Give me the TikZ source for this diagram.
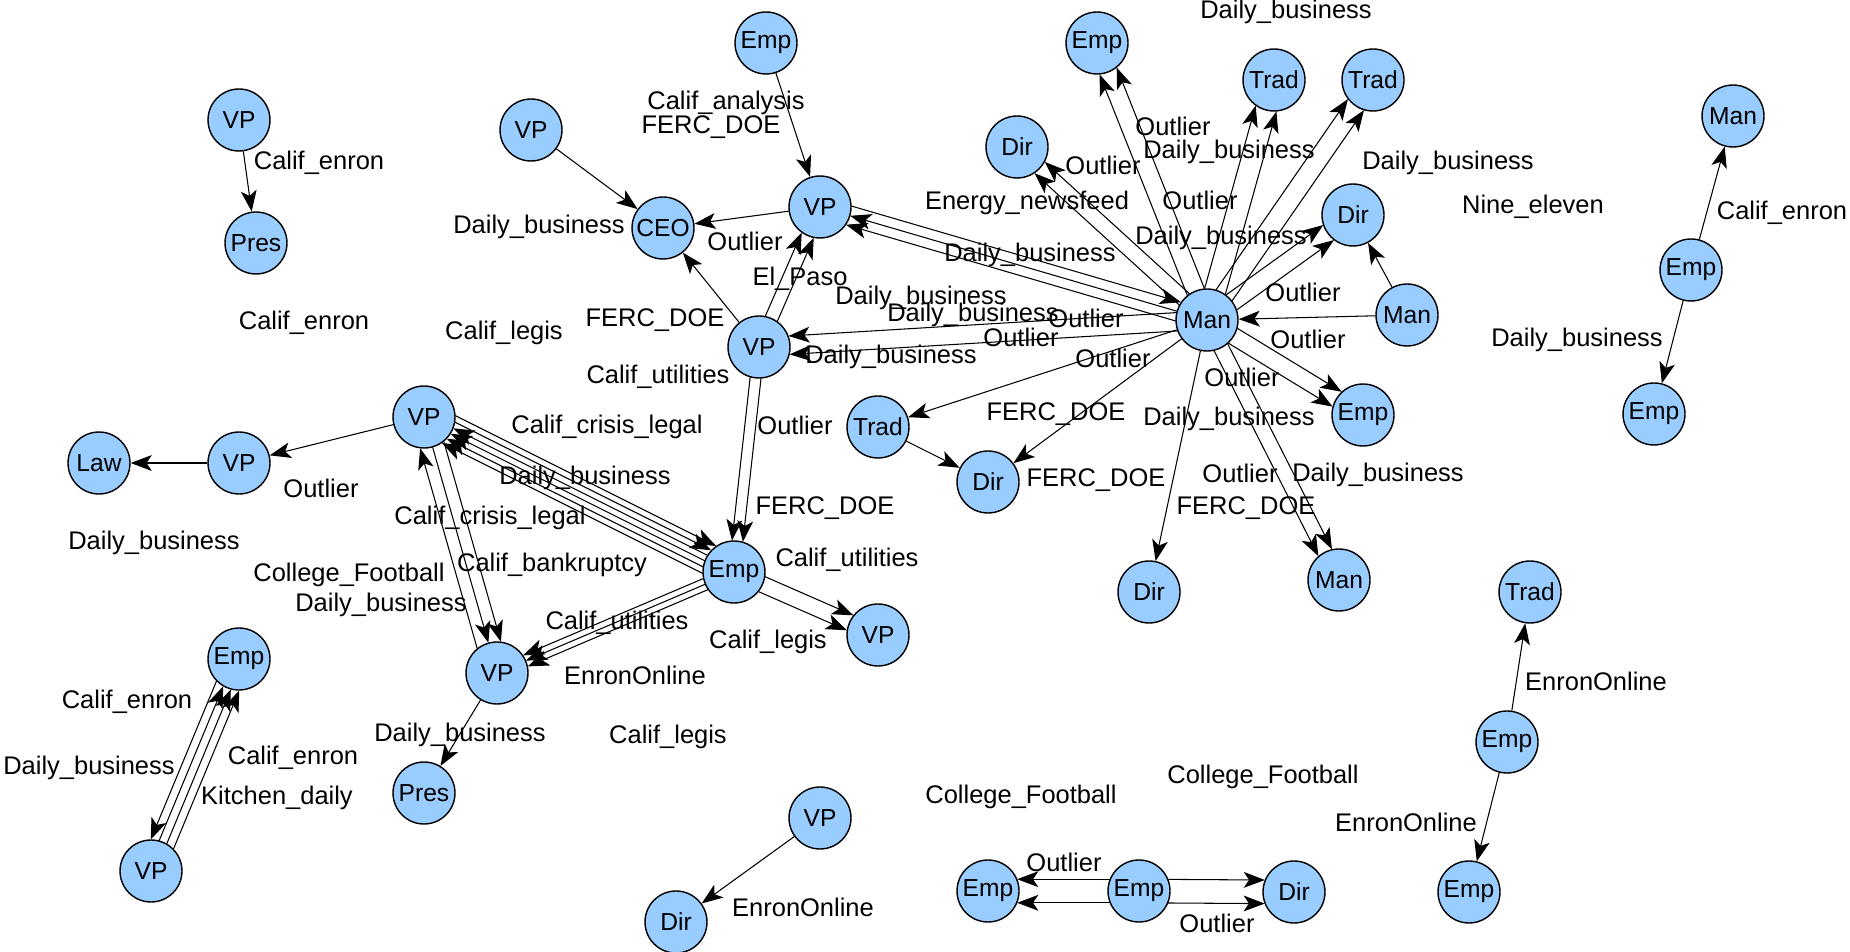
\documentclass[tikz,border=0pt]{standalone}
\usepackage{fontspec}
\setmainfont{Liberation Sans}
\usetikzlibrary{arrows.meta,calc}
\definecolor{nodeblue}{RGB}{153,204,255}
\tikzstyle{vertex}=[circle,draw,line width=0.8pt,fill=nodeblue,minimum size=1.24cm,inner sep=0pt,font=\fontsize{14}{16}\selectfont]
\tikzstyle{edge}=[draw,line width=0.6pt,-{Stealth[length=12pt,width=9pt,inset=3pt]}]
\tikzstyle{weight}=[font=\fontsize{14.5}{17}\selectfont,inner sep=0pt]
% parallel copies of one connector, #3 = angle offset on the circles
\newcommand{\bundlerad}{0.63cm}
\newcommand{\bundle}[3]{%
  \pgfmathsetmacro{\offb}{-(#3)}%
  \path[edge] ($(#1)!\bundlerad!#3:(#2)$) -- ($(#2)!\bundlerad!\offb:(#1)$);}

\begin{document}
\begin{tikzpicture}[x=0.02cm,y=-0.02cm]
  \useasboundingbox (0,0) rectangle (1850,952);

  % people
  \node[vertex] (vpa) at (239,120) {VP};
  \node[vertex] (presa) at (256,243) {Pres};
  \node[vertex] (vpb) at (531,130) {VP};
  \node[vertex] (ceo) at (663,228) {CEO};
  \node[vertex] (empa) at (766,43) {Emp};
  \node[vertex] (vpc) at (820,207) {VP};
  \node[vertex] (vpd) at (759,347) {VP};
  \node[vertex] (hub) at (1207,320) {Man};
  \node[vertex] (empb) at (1097,43) {Emp};
  \node[vertex] (trada) at (1274,80) {Trad};
  \node[vertex] (tradb) at (1373,80) {Trad};
  \node[vertex] (dira) at (1017,147) {Dir};
  \node[vertex] (dirb) at (1353,215) {Dir};
  \node[vertex] (mana) at (1407,315) {Man};
  \node[vertex] (empc) at (1363,415) {Emp};
  \node[vertex] (tradc) at (878,427) {Trad};
  \node[vertex] (dirc) at (988,482) {Dir};
  \node[vertex] (dird) at (1149,592) {Dir};
  \node[vertex] (manb) at (1339,580) {Man};
  \node[vertex] (manc) at (1733,116) {Man};
  \node[vertex] (empd) at (1691,270) {Emp};
  \node[vertex] (empe) at (1654,414) {Emp};
  \node[vertex] (vpe) at (424,417) {VP};
  \node[vertex] (law) at (99,463) {Law};
  \node[vertex] (vpf) at (239,463) {VP};
  \node[vertex] (empf) at (734,572) {Emp};
  \node[vertex] (vpg) at (878,635) {VP};
  \node[vertex] (vph) at (497,673) {VP};
  \node[vertex] (presb) at (424,793) {Pres};
  \node[vertex] (empg) at (239,659) {Emp};
  \node[vertex] (vpi) at (151,871) {VP};
  \node[vertex] (vpj) at (820,818) {VP};
  \node[vertex] (dire) at (676,922) {Dir};
  \node[vertex] (emph) at (988,891) {Emp};
  \node[vertex] (empi) at (1139,891) {Emp};
  \node[vertex] (dirf) at (1294,892) {Dir};
  \node[vertex] (tradd) at (1530,592) {Trad};
  \node[vertex] (empj) at (1507,742) {Emp};
  \node[vertex] (empk) at (1469,892) {Emp};

  % single mails
  \path[edge] (vpa) -- (presa);
  \path[edge] (vpb) -- (ceo);
  \path[edge] (empa) -- (vpc);
  \path[edge] (vpc) -- (ceo);
  \path[edge] (vpd) -- (ceo);
  \path[edge] (hub) -- (tradc);
  \path[edge] (hub) -- (dirc);
  \path[edge] (hub) -- (dird);
  \path[edge] (mana) -- (hub);
  \path[edge] (mana) -- (dirb);
  \path[edge] (tradc) -- (dirc);
  \path[edge] (vpe) -- (vpf);
  \path[edge] (vpf) -- (law);
  \path[edge] (vph) -- (presb);
  \path[edge] (vpj) -- (dire);
  \path[edge] (empd) -- (manc);
  \path[edge] (empd) -- (empe);
  \path[edge] (empj) -- (tradd);
  \path[edge] (empj) -- (empk);

  % repeated mails
  \bundle{vpc}{hub}{18} \bundle{hub}{vpc}{0} \bundle{hub}{vpc}{18}
  \bundle{hub}{vpd}{17} \bundle{hub}{vpd}{-17}
  \bundle{hub}{dira}{14} \bundle{hub}{dira}{-14}
  \bundle{hub}{empb}{17} \bundle{hub}{empb}{-17}
  \bundle{hub}{trada}{20} \bundle{hub}{trada}{-20}
  \bundle{hub}{tradb}{18} \bundle{hub}{tradb}{-18}
  \bundle{hub}{dirb}{17} \bundle{hub}{dirb}{-17}
  \bundle{hub}{empc}{16} \bundle{hub}{empc}{-16}
  \bundle{hub}{manb}{14} \bundle{hub}{manb}{-14}
  \bundle{vpd}{vpc}{12} \bundle{vpd}{vpc}{-12}
  \bundle{vpd}{empf}{10} \bundle{vpd}{empf}{-10}
  \bundle{vpe}{empf}{29} \bundle{vpe}{empf}{17}
  \bundle{empf}{vpe}{-5.5} \bundle{empf}{vpe}{5.5}
  \bundle{empf}{vpe}{17} \bundle{empf}{vpe}{29}
  \bundle{vph}{vpe}{23} \bundle{vpe}{vph}{0} \bundle{vpe}{vph}{23}
  \bundle{empf}{vph}{-11} \bundle{empf}{vph}{0} \bundle{empf}{vph}{11}
  \bundle{empf}{vpg}{15} \bundle{empf}{vpg}{-15}
  \bundle{empg}{vpi}{-23}
  \bundle{vpi}{empg}{7.5} \bundle{vpi}{empg}{-7.5} \bundle{vpi}{empg}{-23}
  \bundle{empi}{emph}{22} \bundle{empi}{emph}{-22}
  \bundle{empi}{dirf}{22} \bundle{empi}{dirf}{-22}

  % topics
  \node[weight] (lb1) at (319,163) {Calif\_enron};
  \node[weight] (lb2) at (539,227) {Daily\_business};
  \node[weight] (lb3) at (726,103) {Calif\_analysis};
  \node[weight] (lb4) at (711,127) {FERC\_DOE};
  \node[weight] (lb5) at (745,241) {Outlier};
  \node[weight] (lb6) at (800,279) {El\_Paso};
  \node[weight] (lb7) at (655,320) {FERC\_DOE};
  \node[weight] (lb8) at (658,377) {Calif\_utilities};
  \node[weight] (lb9) at (504,333) {Calif\_legis};
  \node[weight] (lb10) at (304,323) {Calif\_enron};
  \node[weight] (lb11) at (1030,255) {Daily\_business};
  \node[weight] (lb12) at (1027,203) {Energy\_newsfeed};
  \node[weight] (lb13) at (1103,165) {Outlier};
  \node[weight] (lb14) at (921,298) {Daily\_business};
  \node[weight] (lb15) at (973,315) {Daily\_business};
  \node[weight] (lb16) at (1086,318) {Outlier};
  \node[weight] (lb17) at (1021,337) {Outlier};
  \node[weight] (lb18) at (891,357) {Daily\_business};
  \node[weight] (lb19) at (1113,358) {Outlier};
  \node[weight] (lb20) at (1173,126) {Outlier};
  \node[weight] (lb21) at (1229,152) {Daily\_business};
  \node[weight] (lb22) at (1200,200) {Outlier};
  \node[weight] (lb23) at (1221,238) {Daily\_business};
  \node[weight] (lb24) at (1448,163) {Daily\_business};
  \node[weight] (lb25) at (1533,207) {Nine\_eleven};
  \node[weight] (lb26) at (1286,12) {Daily\_business};
  \node[weight] (lb27) at (1303,292) {Outlier};
  \node[weight] (lb28) at (1308,339) {Outlier};
  \node[weight] (lb29) at (1242,377) {Outlier};
  \node[weight] (lb30) at (1229,419) {Daily\_business};
  \node[weight] (lb31) at (1240,473) {Outlier};
  \node[weight] (lb32) at (1378,475) {Daily\_business};
  \node[weight] (lb33) at (1246,508) {FERC\_DOE};
  \node[weight] (lb34) at (1056,414) {FERC\_DOE};
  \node[weight] (lb35) at (1096,480) {FERC\_DOE};
  \node[weight] (lb36) at (795,425) {Outlier};
  \node[weight] (lb37) at (825,508) {FERC\_DOE};
  \node[weight] (lb38) at (847,560) {Calif\_utilities};
  \node[weight] (lb39) at (607,427) {Calif\_crisis\_legal};
  \node[weight] (lb40) at (585,478) {Daily\_business};
  \node[weight] (lb41) at (490,518) {Calif\_crisis\_legal};
  \node[weight] (lb42) at (552,565) {Calif\_bankruptcy};
  \node[weight] (lb43) at (617,623) {Calif\_utilities};
  \node[weight] (lb44) at (635,675) {EnronOnline};
  \node[weight] (lb45) at (768,642) {Calif\_legis};
  \node[weight] (lb46) at (321,488) {Outlier};
  \node[weight] (lb47) at (154,543) {Daily\_business};
  \node[weight] (lb48) at (349,575) {College\_Football};
  \node[weight] (lb49) at (381,605) {Daily\_business};
  \node[weight] (lb50) at (460,735) {Daily\_business};
  \node[weight] (lb51) at (668,737) {Calif\_legis};
  \node[weight] (lb52) at (803,907) {EnronOnline};
  \node[weight] (lb53) at (127,702) {Calif\_enron};
  \node[weight] (lb54) at (89,768) {Daily\_business};
  \node[weight] (lb55) at (293,758) {Calif\_enron};
  \node[weight] (lb56) at (277,798) {Kitchen\_daily};
  \node[weight] (lb57) at (1021,797) {College\_Football};
  \node[weight] (lb58) at (1263,777) {College\_Football};
  \node[weight] (lb59) at (1064,862) {Outlier};
  \node[weight] (lb60) at (1217,923) {Outlier};
  \node[weight] (lb61) at (1782,213) {Calif\_enron};
  \node[weight] (lb62) at (1577,340) {Daily\_business};
  \node[weight] (lb63) at (1596,681) {EnronOnline};
  \node[weight] (lb64) at (1406,822) {EnronOnline};
\end{tikzpicture}
\end{document}
